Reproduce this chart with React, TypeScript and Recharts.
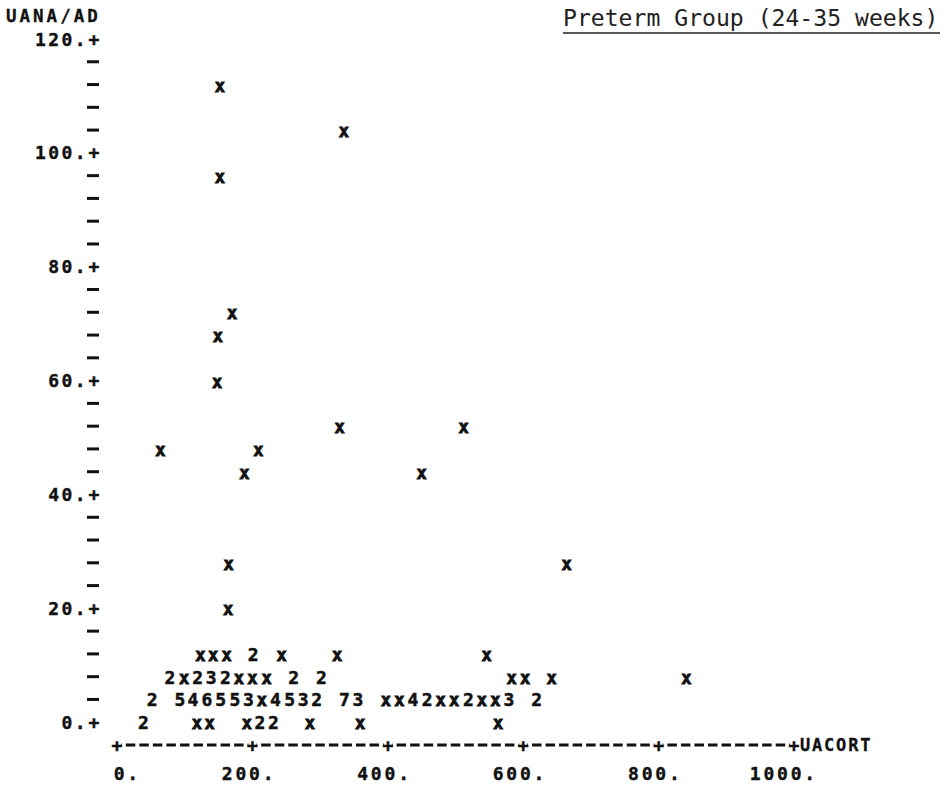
import React from 'react';
import { ScatterChart, Scatter, XAxis, YAxis, Customized } from 'recharts';

// ---------- text ----------
const chartTitle = 'Preterm Group (24-35 weeks)';
const xAxisName = 'UACORT';
const yAxisName = 'UANA/AD';

// ---------- axes ----------
const xTicks = [0, 200, 400, 600, 800, 1000];
const xTickLabels = ['0.', '200.', '400.', '600.', '800.', '1000.'];
const yTicks = [0, 4, 8, 12, 16, 20, 24, 28, 32, 36, 40, 44, 48, 52, 56, 60, 64, 68, 72, 76, 80, 84, 88, 92, 96, 100, 104, 108, 112, 116, 120];
const yMajorTicks = [0, 20, 40, 60, 80, 100, 120];
const yMajorLabels = ['0.', '20.', '40.', '60.', '80.', '100.', '120.'];

// ---------- data: isolated single observations ----------
const singleUacort = [152, 335, 152, 170, 149, 148, 64, 209, 188, 329, 512, 450, 165, 664, 164];
const singleUana = [112, 104, 96, 72, 68, 60, 48, 48, 44, 52, 52, 44, 28, 28, 20];

// ---------- data: dense printer rows (mark = count of overlapping points, x = one) ----------
const row12Uacort = [123, 142, 162, 201, 243, 325, 546];
const row12Marks = ['x', 'x', 'x', '2', 'x', 'x', 'x'];

const row8Uacort = [78, 99, 119, 139, 160, 180, 200, 221, 261, 302, 583, 603, 642, 841];
const row8Marks = ['2', 'x', '2', '3', '2', 'x', 'x', 'x', '2', '2', 'x', 'x', 'x', 'x'];

const row4Uacort = [52, 93, 112, 133, 153, 174, 194, 214, 234, 255, 275, 295, 336, 356, 397, 417, 437, 458, 478, 498, 519, 539, 559, 579, 620];
const row4Marks = ['2', '5', '4', '6', '5', '5', '3', 'x', '4', '5', '3', '2', '7', '3', 'x', 'x', '4', '2', 'x', 'x', '2', 'x', 'x', '3', '2'];

const row0Uacort = [39, 118, 137, 192, 211, 231, 285, 359, 563];
const row0Marks = ['2', 'x', 'x', 'x', '2', '2', 'x', 'x', 'x'];

type Pt = { x: number; y: number; mark: string };

const buildRow = (xs: number[], y: number, marks: string[]): Pt[] =>
  xs.map((x, i) => ({ x, y, mark: marks[i] }));

const points: Pt[] = [
  ...singleUacort.map((x, i) => ({ x, y: singleUana[i], mark: 'x' })),
  ...buildRow(row12Uacort, 12, row12Marks),
  ...buildRow(row8Uacort, 8, row8Marks),
  ...buildRow(row4Uacort, 4, row4Marks),
  ...buildRow(row0Uacort, 0, row0Marks),
];

const PRINT_FONT = '"DejaVu Sans Mono", monospace';
const INK = '#111';

const Glyph = (props: any) => {
  const { cx, cy, payload } = props;
  if (cx == null || cy == null) return null;
  const isX = payload.mark === 'x';
  return (
    <text
      x={cx}
      y={cy + 7}
      textAnchor="middle"
      fontFamily={PRINT_FONT}
      fontWeight="bold"
      fontSize={isX ? 17 : 18}
      fill={INK}
      stroke={INK}
      strokeWidth={isX ? 0.9 : 0.5}
    >
      {payload.mark}
    </text>
  );
};

const YTick = (props: any) => {
  const { x, y, payload } = props;
  const v = payload.value;
  const mi = yMajorTicks.indexOf(v);
  if (mi >= 0) {
    return (
      <g>
        <text
          x={x - 29}
          y={y}
          textAnchor="end"
          dominantBaseline="central"
          fontFamily={PRINT_FONT}
          fontWeight="bold"
          fontSize={18}
          letterSpacing={2.4}
          fill={INK}
          stroke={INK}
          strokeWidth={0.4}
        >
          {yMajorLabels[mi]}
        </text>
        <text
          x={x - 23}
          y={y}
          textAnchor="middle"
          dominantBaseline="central"
          fontFamily={PRINT_FONT}
          fontWeight="bold"
          fontSize={18}
          fill={INK}
          stroke={INK}
          strokeWidth={0.5}
        >
          +
        </text>
      </g>
    );
  }
  return <line x1={x - 30} x2={x - 18} y1={y} y2={y} stroke={INK} strokeWidth={3} />;
};

const XTick = (props: any) => {
  const { x, y, payload } = props;
  const i = xTicks.indexOf(payload.value);
  const isLast = i === xTicks.length - 1;
  return (
    <g>
      <rect x={x - 4} y={y - 3} width={8} height={6} fill="#fff" />
      <text
        x={x}
        y={y}
        textAnchor="middle"
        dominantBaseline="central"
        fontFamily={PRINT_FONT}
        fontWeight="bold"
        fontSize={18}
        fill={INK}
        stroke={INK}
        strokeWidth={0.5}
      >
        +
      </text>
      <text
        x={x + 24}
        y={y + 28}
        textAnchor="end"
        dominantBaseline="central"
        fontFamily={PRINT_FONT}
        fontWeight="bold"
        fontSize={18}
        letterSpacing={2.8}
        fill={INK}
        stroke={INK}
        strokeWidth={0.4}
      >
        {xTickLabels[i]}
      </text>
      {isLast ? (
        <text
          x={x + 6}
          y={y}
          dominantBaseline="central"
          fontFamily={PRINT_FONT}
          fontWeight="bold"
          fontSize={17}
          letterSpacing={1.8}
          fill={INK}
          stroke={INK}
          strokeWidth={0.3}
        >
          {xAxisName}
        </text>
      ) : null}
    </g>
  );
};

const Decorations = () => (
  <g>
    <text
      x={6}
      y={22}
      fontFamily={PRINT_FONT}
      fontWeight="bold"
      fontSize={17.5}
      letterSpacing={3}
      fill={INK}
      stroke={INK}
      strokeWidth={0.3}
    >
      {yAxisName}
    </text>
    <text
      x={563}
      y={26}
      fontFamily={PRINT_FONT}
      fontSize={23.1}
      fill="#222"
    >
      {chartTitle}
    </text>
    <line x1={563} x2={940} y1={33} y2={33} stroke="#222" strokeWidth={1.6} />
  </g>
);

export default function App() {
  return (
    <div style={{ position: 'absolute', left: 0, top: 0, width: 945, height: 789, background: '#fff' }}>
      <ScatterChart width={945} height={789} margin={{ top: 39, right: 151, bottom: 0, left: 0 }}>
        <XAxis
          type="number"
          dataKey="x"
          domain={[0, 1000]}
          ticks={xTicks}
          interval={0}
          tickSize={0}
          tickMargin={0}
          height={44}
          tickLine={false}
          axisLine={{ stroke: INK, strokeWidth: 3, strokeDasharray: '9.5 4.04', strokeDashoffset: 4.75 }}
          tick={<XTick />}
        />
        <YAxis
          type="number"
          dataKey="y"
          domain={[-4, 120]}
          ticks={yTicks}
          interval={0}
          tickSize={0}
          tickMargin={0}
          width={117}
          tickLine={false}
          axisLine={false}
          tick={<YTick />}
        />
        <Scatter data={points} shape={<Glyph />} isAnimationActive={false} />
        <Customized component={<Decorations />} />
      </ScatterChart>
    </div>
  );
}
